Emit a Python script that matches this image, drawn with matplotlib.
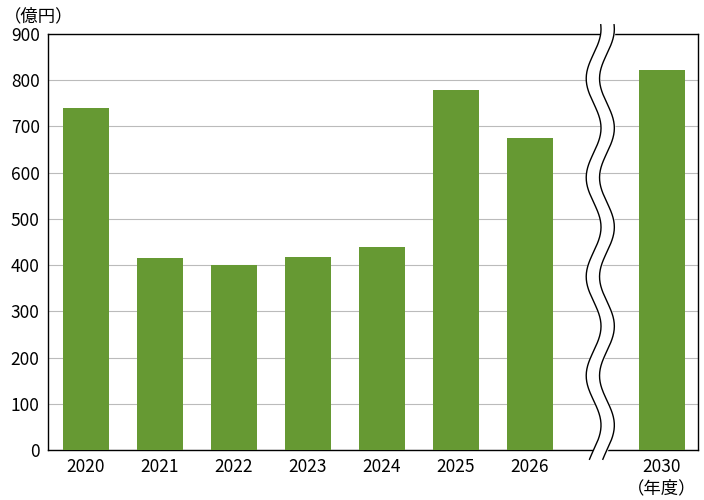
import numpy as np
import matplotlib.pyplot as plt

plt.rcParams['font.family'] = ['Noto Sans CJK JP', 'DejaVu Sans']

years = ['2020', '2021', '2022', '2023', '2024', '2025', '2026', '2030']
values = [740, 415, 400, 417, 440, 778, 675, 822]
positions = [0, 1, 2, 3, 4, 5, 6, 7.78]

fig = plt.figure(figsize=(7.04, 5.0), dpi=100)
ax = fig.add_axes([48 / 704, 50 / 500, 650 / 704, 416 / 500])

ax.bar(positions, values, width=0.62, color='#669933', zorder=3)
ax.set_xlim(-0.51, 8.27)
ax.set_ylim(0, 900)
ax.set_yticks(range(0, 901, 100))
ax.set_xticks(positions)
ax.set_xticklabels(years)
ax.tick_params(length=0, labelsize=12.5, pad=6)
ax.yaxis.grid(True, color='#bbbbbb', linewidth=0.8, zorder=0)
for s in ax.spines.values():
    s.set_linewidth(1.0)

# wavy break
yy = np.linspace(-20, 920, 400)
wave = 0.1 * np.sin(yy / 900 * 2 * np.pi * 4.2)
xc = 6.95
left = xc - 0.09 + wave
right = xc + 0.09 + wave
ax.fill_betweenx(yy, left, right, color='white', zorder=5, clip_on=False)
ax.plot(left, yy, color='black', lw=1.0, zorder=6, clip_on=False)
ax.plot(right, yy, color='black', lw=1.0, zorder=6, clip_on=False)

fig.text(4 / 704, 1 - 16 / 500, '（億円）', fontsize=12.5, va='center', ha='left')
fig.text(662 / 704, 1 - 488 / 500, '（年度）', fontsize=12.5, va='center', ha='center')

fig.savefig('out.png', dpi=100)
